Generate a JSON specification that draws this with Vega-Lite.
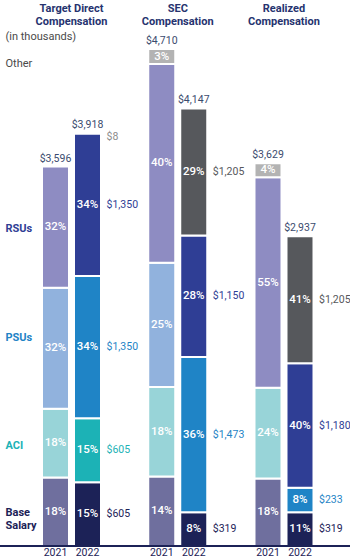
{
  "$schema": "https://vega.github.io/schema/vega-lite/v6.json",
  "width": 350,
  "height": 514,
  "autosize": "none",
  "padding": {"left": 0, "right": 0, "top": 32, "bottom": 14},
  "config": {"view": {"stroke": null}, "font": "Roboto"},
  "datasets": {
    "bars": [
      {"group": "TDC", "year": "2021", "component": "Base Salary", "segment": "Base 2021", "rank": 1, "value": 650, "pct": 0.18},
      {"group": "TDC", "year": "2021", "component": "ACI", "segment": "ACI 2021", "rank": 2, "value": 650, "pct": 0.18},
      {"group": "TDC", "year": "2021", "component": "PSUs", "segment": "PSUs 2021", "rank": 3, "value": 1148, "pct": 0.32},
      {"group": "TDC", "year": "2021", "component": "RSUs", "segment": "RSUs 2021", "rank": 4, "value": 1148, "pct": 0.32},
      {"group": "TDC", "year": "2022", "component": "Base Salary", "segment": "Base 2022", "rank": 1, "value": 605, "pct": 0.15},
      {"group": "TDC", "year": "2022", "component": "ACI", "segment": "ACI 2022", "rank": 2, "value": 605, "pct": 0.15},
      {"group": "TDC", "year": "2022", "component": "PSUs", "segment": "PSUs 2022", "rank": 3, "value": 1350, "pct": 0.34},
      {"group": "TDC", "year": "2022", "component": "RSUs", "segment": "RSUs 2022", "rank": 4, "value": 1350, "pct": 0.34},
      {"group": "TDC", "year": "2022", "component": "Other", "segment": "Other 2022", "rank": 5, "value": 8, "pct": 0.002},
      {"group": "SEC", "year": "2021", "component": "Base Salary", "segment": "Base 2021", "rank": 1, "value": 659, "pct": 0.14},
      {"group": "SEC", "year": "2021", "component": "ACI", "segment": "ACI 2021", "rank": 2, "value": 848, "pct": 0.18},
      {"group": "SEC", "year": "2021", "component": "PSUs", "segment": "PSUs 2021", "rank": 3, "value": 1178, "pct": 0.25},
      {"group": "SEC", "year": "2021", "component": "RSUs", "segment": "RSUs 2021", "rank": 4, "value": 1884, "pct": 0.40},
      {"group": "SEC", "year": "2021", "component": "Other", "segment": "Other 2021", "rank": 5, "value": 141, "pct": 0.03},
      {"group": "SEC", "year": "2022", "component": "Base Salary", "segment": "Base 2022", "rank": 1, "value": 319, "pct": 0.08},
      {"group": "SEC", "year": "2022", "component": "PSUs", "segment": "PSUs 2022", "rank": 3, "value": 1473, "pct": 0.36},
      {"group": "SEC", "year": "2022", "component": "RSUs", "segment": "RSUs 2022", "rank": 4, "value": 1150, "pct": 0.28},
      {"group": "SEC", "year": "2022", "component": "Special", "segment": "Special 2022", "rank": 5, "value": 1205, "pct": 0.29},
      {"group": "Realized", "year": "2021", "component": "Base Salary", "segment": "Base 2021", "rank": 1, "value": 640, "pct": 0.18},
      {"group": "Realized", "year": "2021", "component": "ACI", "segment": "ACI 2021", "rank": 2, "value": 860, "pct": 0.24},
      {"group": "Realized", "year": "2021", "component": "RSUs", "segment": "RSUs 2021", "rank": 4, "value": 1995, "pct": 0.55},
      {"group": "Realized", "year": "2021", "component": "Other", "segment": "Other 2021", "rank": 5, "value": 134, "pct": 0.04},
      {"group": "Realized", "year": "2022", "component": "Base Salary", "segment": "Base 2022", "rank": 1, "value": 319, "pct": 0.11},
      {"group": "Realized", "year": "2022", "component": "PSUs", "segment": "PSUs 2022", "rank": 3, "value": 233, "pct": 0.08},
      {"group": "Realized", "year": "2022", "component": "RSUs", "segment": "RSUs 2022", "rank": 4, "value": 1180, "pct": 0.40},
      {"group": "Realized", "year": "2022", "component": "Special", "segment": "Special 2022", "rank": 5, "value": 1205, "pct": 0.41}
    ]
  },
  "data": {"name": "bars"},
  "layer": [
    {
      "encoding": {
        "x": {
          "field": "group", "type": "nominal",
          "scale": {"domain": ["TDC", "SEC", "Realized"], "paddingInner": 0.4447, "paddingOuter": 0.3694, "align": 0.535},
          "axis": {
            "orient": "top", "title": null, "domain": false, "ticks": false, "labelAngle": 0,
            "labelPadding": 19, "labelFontSize": 11, "labelFontWeight": "bold", "labelColor": "#26336f",
            "labelLineHeight": 13,
            "labelExpr": "datum.value == 'TDC' ? ['Target Direct','Compensation'] : datum.value == 'SEC' ? ['SEC','Compensation'] : ['Realized','Compensation']"
          }
        },
        "xOffset": {"field": "year", "type": "nominal", "scale": {"domain": ["2021", "2022"], "paddingInner": 0.15625, "paddingOuter": 0}}
      },
      "layer": [
        {
          "mark": {"type": "bar", "stroke": "white", "strokeWidth": 2},
          "encoding": {
            "y": {
              "field": "value", "type": "quantitative", "stack": "zero",
              "scale": {"domain": [0, 4872], "nice": false},
              "axis": {
                "title": null, "orient": "left", "domain": false, "ticks": false, "tickSize": 0, "grid": false,
                "values": [313, 948, 1981, 3014, 4578, 4825],
                "labelPadding": -5, "labelAlign": "left", "labelFontSize": 11, "labelLineHeight": 13,
                "labelOverlap": false, "labelFlush": false, "labelBound": false,
                "labelExpr": "datum.value == 4825 ? '(in thousands)' : datum.value == 4578 ? 'Other' : datum.value == 3014 ? 'RSUs' : datum.value == 1981 ? 'PSUs' : datum.value == 948 ? 'ACI' : ['Base','Salary']",
                "labelFontWeight": {"condition": {"test": "datum.value < 4000", "value": "bold"}, "value": "normal"},
                "labelColor": {
                  "condition": [
                    {"test": "datum.value == 3014", "value": "#2f3e95"},
                    {"test": "datum.value == 1981", "value": "#1f84c6"},
                    {"test": "datum.value == 948", "value": "#1cb2b6"},
                    {"test": "datum.value == 313", "value": "#1c2257"}
                  ],
                  "value": "#4a4a4a"
                }
              }
            },
            "color": {
              "field": "segment", "type": "nominal", "legend": null,
              "scale": {
                "domain": ["Base 2021", "ACI 2021", "PSUs 2021", "RSUs 2021", "Other 2021", "Base 2022", "ACI 2022", "PSUs 2022", "RSUs 2022", "Other 2022", "Special 2022"],
                "range": ["#6f6f9e", "#98d4d8", "#91b2dd", "#8e8cc2", "#b3b3b3", "#1c2257", "#1cb2b6", "#1f84c6", "#2f3e95", "#8c8c8c", "#56585c"]
              }
            },
            "order": {"field": "rank", "type": "quantitative"}
          }
        },
        {
          "transform": [
            {"stack": "value", "groupby": ["group", "year"], "sort": [{"field": "rank", "order": "ascending"}], "as": ["y0", "y1"]},
            {"calculate": "(datum.y0 + datum.y1) / 2", "as": "ymid"},
            {"filter": "datum.pct >= 0.02"}
          ],
          "mark": {"type": "text", "color": "white", "fontSize": 11.5, "fontWeight": 500, "baseline": "middle"},
          "encoding": {
            "y": {"field": "ymid", "type": "quantitative"},
            "text": {"field": "pct", "type": "quantitative", "format": ".0%"}
          }
        },
        {
          "transform": [
            {"stack": "value", "groupby": ["group", "year"], "sort": [{"field": "rank", "order": "ascending"}], "as": ["y0", "y1"]},
            {"calculate": "(datum.y0 + datum.y1) / 2", "as": "ymid"},
            {"filter": "datum.year == '2022'"}
          ],
          "mark": {"type": "text", "align": "left", "baseline": "middle", "dx": 19, "fontSize": 10.5, "dy": {"expr": "datum.component == 'Other' ? 4 : 0"}},
          "encoding": {
            "y": {"field": "ymid", "type": "quantitative"},
            "text": {"field": "value", "type": "quantitative", "format": "$,.0f"},
            "color": {"field": "segment", "type": "nominal", "legend": null}
          }
        },
        {
          "transform": [{"aggregate": [{"op": "sum", "field": "value", "as": "total"}], "groupby": ["group", "year"]}],
          "layer": [
            {
              "mark": {"type": "text", "baseline": "bottom", "dy": -3, "fontSize": 10.5, "color": "#3b4b6e"},
              "encoding": {
                "y": {"field": "total", "type": "quantitative"},
                "text": {"field": "total", "type": "quantitative", "format": "$,.0f"}
              }
            },
            {
              "mark": {"type": "text", "baseline": "top", "dy": 2, "fontSize": 10.5, "color": "#1c2257"},
              "encoding": {
                "y": {"datum": 0, "type": "quantitative"},
                "text": {"field": "year", "type": "nominal"}
              }
            }
          ]
        }
      ]
    },
    {
      "mark": {"type": "rule", "color": "#1c2257", "strokeWidth": 2},
      "encoding": {"y": {"datum": 0, "type": "quantitative"}}
    }
  ]
}
